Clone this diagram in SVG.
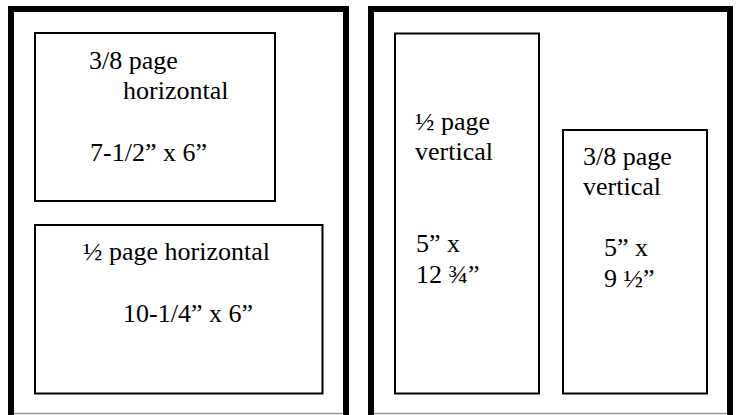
<svg xmlns="http://www.w3.org/2000/svg" width="738" height="415" viewBox="0 0 738 415">
<style>
.frame{fill:none;stroke:#000;stroke-width:6;stroke-linejoin:miter}
.base{fill:none;stroke:#999;stroke-width:1.5}
.box{fill:#fff;stroke:#000;stroke-width:2}
text{font-family:"Liberation Serif","Times New Roman",serif;font-size:26px;fill:#000}
</style>
<rect width="738" height="415" fill="#fff"/>
<g id="page-left">
<path class="frame" d="M11,415 V9 H346 V415"/>
<line class="base" x1="14" y1="413.5" x2="343" y2="413.5"/>
</g>
<g id="page-right">
<path class="frame" d="M371,415 V9 H730 V415"/>
<line class="base" x1="374" y1="413.5" x2="727" y2="413.5"/>
</g>
<g id="box-38-horizontal">
<rect class="box" x="35" y="33" width="240" height="168"/>
<text x="89" y="69">3/8 page</text>
<text x="123" y="99">horizontal</text>
<text x="90" y="161">7-1/2” x 6”</text>
</g>
<g id="box-12-horizontal">
<rect class="box" x="35" y="225" width="287.5" height="168.5"/>
<text x="83" y="260">½ page horizontal</text>
<text x="123" y="322">10-1/4” x 6”</text>
</g>
<g id="box-12-vertical">
<rect class="box" x="395" y="33.5" width="144" height="360"/>
<text x="415" y="130">½ page</text>
<text x="415" y="160">vertical</text>
<text x="416" y="252">5” x</text>
<text x="416" y="283">12 ¾”</text>
</g>
<g id="box-38-vertical">
<rect class="box" x="563" y="130" width="144" height="263.5"/>
<text x="583" y="165">3/8 page</text>
<text x="583" y="195">vertical</text>
<text x="604" y="256">5” x</text>
<text x="604" y="287">9 ½”</text>
</g>
<g id="connectors"/>
</svg>
